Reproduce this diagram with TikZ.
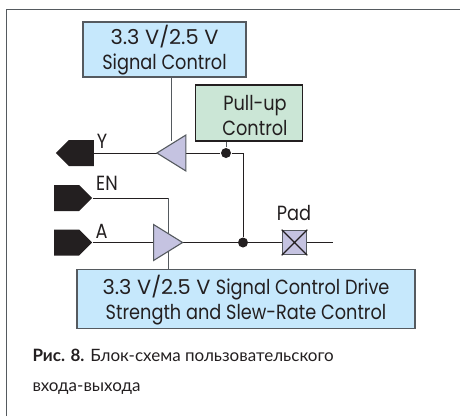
\documentclass[tikz,border=0pt]{standalone}
\usepackage{fontspec}
\usepackage{graphicx}
\setmainfont{Poppins}
\newfontfamily\capfont{Lato}
\usetikzlibrary{shapes,shapes.geometric,shapes.symbols,positioning,calc,backgrounds}
\definecolor{myblue}{RGB}{198,232,252}
\definecolor{mygreen}{RGB}{203,230,214}
\definecolor{mylilac}{RGB}{197,195,225}
\definecolor{myink}{RGB}{35,31,32}
\definecolor{myedge}{RGB}{85,90,95}
\newcommand{\narrowtxt}[1]{\scalebox{0.865}[1]{#1}}
\newcommand{\voltstxt}{\rule{0pt}{21pt}\scalebox{1.02}[1]{3.3 V/2.5 V}}

\begin{document}
\begin{tikzpicture}[x=1pt, y=-1pt, line width=1.1pt,
    ctlbox/.style={draw=myedge, line width=1.2pt, fill=myblue, align=center, inner sep=0pt, font=\fontsize{20.5}{25}\selectfont, text=myink},
    bufl/.style={draw=myedge, fill=mylilac, isosceles triangle, isosceles triangle stretches, shape border rotate=180, minimum width=36pt, minimum height=29pt, inner sep=0pt, anchor=apex},
    bufr/.style={draw=myedge, fill=mylilac, isosceles triangle, isosceles triangle stretches, minimum width=36pt, minimum height=29pt, inner sep=0pt, anchor=apex},
    pinshape/.style={signal, signal pointer angle=90, fill=myink, minimum width=38pt, minimum height=26pt, inner sep=0pt},
    jdot/.style={circle, fill=myink, minimum size=10pt, inner sep=0pt},
    lbl/.style={font=\fontsize{20.5}{25}\selectfont, text=myink, inner sep=0pt},
]
    \useasboundingbox (0,0) rectangle (460,416);

    % Frame, open on two sides
    \draw[myedge, line width=1pt] (6,416) -- (6,9.5) -- (460,9.5);

    % Control blocks
    \node[ctlbox, minimum width=163pt, minimum height=55pt] (sigctl) at (164.5,49.5) {\voltstxt\\\narrowtxt{Signal Control}};
    \node[ctlbox, fill=mygreen, draw=myink, minimum width=107pt, minimum height=56pt] (pullup) at (249,113) {\rule{0pt}{21pt}\hspace*{12pt}\narrowtxt{Pull-up}\\\hspace*{12pt}\narrowtxt{Control}};
    \node[ctlbox, minimum width=338pt, minimum height=59.5pt] (drvctl) at (246,299) {\voltstxt{} \narrowtxt{Signal Control Drive}\\\narrowtxt{Strength and Slew-Rate Control}};

    % Buffers
    \node[bufl] (ybuf) at (155.5,153) {};
    \node[bufr] (abuf) at (184,242.5) {};

    % Pins
    \node[pinshape, signal to=west, anchor=west] (ypin) at (55,153) {};
    \node[pinshape, signal to=east, anchor=east] (enpin) at (93,198) {};
    \node[pinshape, signal to=east, anchor=east] (apin) at (93,242.5) {};

    % Junctions and pad
    \node[jdot] (pudot) at (226,153) {};
    \node[jdot] (paddot) at (243,242.5) {};
    \node[draw=myedge, fill=mylilac, minimum size=24.5pt, inner sep=0pt] (pad) at (294.5,242.5) {};
    \draw[myink] (pad.north west) -- (pad.south east) (pad.north east) -- (pad.south west);

    % Free ends
    \coordinate (ctltop) at (171,141);
    \coordinate (enbend) at (168,198);
    \coordinate (padend) at (333,242.5);

    % Wires, behind the buffers
    \begin{scope}[on background layer]
        \draw[myink] (ypin.east) -- (ybuf.apex);
        \draw[myink] (ybuf.apex) -- (pudot) -| (paddot);
        \draw[myedge] (pudot) -- (pudot |- pullup.south);
        \draw[myedge] (ctltop |- sigctl.south) -- (ctltop);
        \draw[myink] (enpin.east) -- (enbend);
        \draw[myedge] (enbend) -- (enbend |- drvctl.north);
        \draw[myink] (apin.east) -- (abuf.apex);
        \draw[myink] (abuf.apex) -- (pad.west);
        \draw[myink] (pad.east) -- (padend);
    \end{scope}

    % Pin labels
    \node[lbl] (ylbl) at (102,141) {\narrowtxt{Y}};
    \node[lbl] (enlbl) at (107,183) {\narrowtxt{EN}};
    \node[lbl] (albl) at (101.5,231) {\narrowtxt{A}};
    \node[lbl] (padlbl) at (294,213) {\narrowtxt{Pad}};

    % Caption
    \node[anchor=base west, inner sep=0pt, font=\capfont\fontsize{17}{20}\selectfont, text=myink] (cap1) at (32,361) {\textbf{Рис. 8.} Блок-схема пользовательского};
    \node[anchor=base west, inner sep=0pt, font=\capfont\fontsize{17}{20}\selectfont, text=myink] (cap2) at (32,391) {входа-выхода};
\end{tikzpicture}
\end{document}
